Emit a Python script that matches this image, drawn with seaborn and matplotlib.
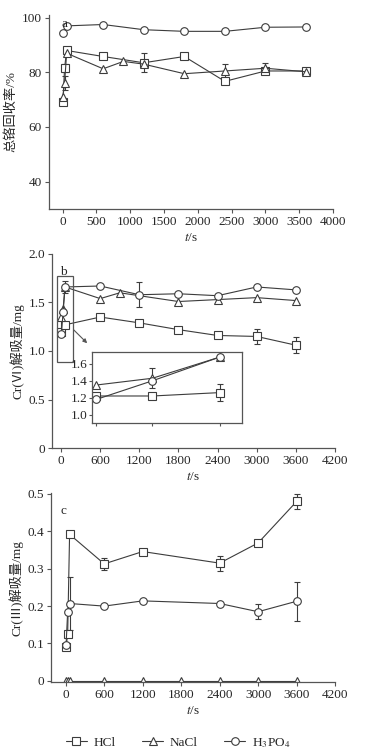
import numpy as np
import pandas as pd
import seaborn as sns
import matplotlib.pyplot as plt
from matplotlib.patches import Rectangle

sns.set_style('ticks')
plt.rcParams['font.family'] = ['Liberation Serif', 'Noto Sans CJK SC']
plt.rcParams['mathtext.fontset'] = 'stix'
plt.rcParams['axes.unicode_minus'] = False

# panel a: total Cr recovery (%)
t_a_hcl = [5, 30, 60, 600, 1200, 1800, 2400, 3000, 3600]
v_a_hcl = [69, 81.5, 88, 85.8, 83.5, 85.8, 76.7, 80.5, 80.5]
e_a_hcl = [0, 1.5, 0, 0, 3.5, 0, 1.0, 0, 0]
t_a_nacl = [5, 30, 60, 600, 900, 1200, 1800, 2400, 3000, 3600]
v_a_nacl = [71, 76, 87, 81.3, 84, 83, 79.5, 80.5, 81.5, 80.2]
e_a_nacl = [0, 2.5, 0, 0, 0, 0, 0, 2.5, 2.0, 0]
t_a_h3po4 = [10, 60, 600, 1200, 1800, 2400, 3000, 3600]
v_a_h3po4 = [94.5, 97, 97.5, 95.6, 95, 95, 96.5, 96.6]
e_a_h3po4 = [0, 0, 0, 0, 0, 0, 0, 0]

# panel b: Cr(VI) desorbed (mg)
t_b_hcl = [5, 60, 600, 1200, 1800, 2400, 3000, 3600]
v_b_hcl = [1.2, 1.27, 1.35, 1.29, 1.22, 1.16, 1.15, 1.06]
e_b_hcl = [0, 0, 0, 0, 0, 0, 0.08, 0.08]
t_b_nacl = [5, 30, 60, 600, 900, 1800, 2400, 3000, 3600]
v_b_nacl = [1.35, 1.43, 1.66, 1.54, 1.6, 1.51, 1.53, 1.55, 1.52]
e_b_nacl = [0, 0, 0.06, 0, 0, 0, 0, 0, 0]
t_b_h3po4 = [5, 30, 60, 600, 1200, 1800, 2400, 3000, 3600]
v_b_h3po4 = [1.18, 1.4, 1.66, 1.67, 1.58, 1.59, 1.57, 1.66, 1.63]
e_b_h3po4 = [0, 0, 0, 0, 0.13, 0, 0, 0, 0]

# inset of panel b
t_in = [5, 30, 60]
v_in_hcl = [1.22, 1.22, 1.26]
e_in_hcl = [0, 0, 0.1]
v_in_nacl = [1.35, 1.43, 1.68]
e_in_nacl = [0, 0.12, 0]
v_in_h3po4 = [1.18, 1.40, 1.68]
e_in_h3po4 = [0, 0, 0.03]

# panel c: Cr(III) desorbed (mg)
t_c_hcl = [5, 30, 60, 600, 1200, 2400, 3000, 3600]
v_c_hcl = [0.09, 0.125, 0.392, 0.313, 0.346, 0.315, 0.369, 0.48]
e_c_hcl = [0, 0, 0, 0.017, 0, 0.02, 0.005, 0.02]
t_c_nacl = [5, 30, 60, 600, 1200, 1800, 2400, 3000, 3600]
v_c_nacl = [0, 0, 0, 0, 0, 0, 0, 0, 0]
e_c_nacl = [0, 0, 0, 0, 0, 0, 0, 0, 0]
t_c_h3po4 = [5, 30, 60, 600, 1200, 2400, 3000, 3600]
v_c_h3po4 = [0.095, 0.185, 0.207, 0.2, 0.214, 0.207, 0.185, 0.213]
e_c_h3po4 = [0, 0, 0.07, 0, 0, 0, 0.02, 0.052]

names = ['HCl', 'NaCl', 'H3PO4']
markers = {'HCl': 's', 'NaCl': '^', 'H3PO4': 'o'}
ink = '#3c3c3c'
fs = 9.5


def make_df(series):
    rows = []
    for name, (t, v, e) in zip(names, series):
        for ti, vi, ei in zip(t, v, e):
            rows.append({'t': ti, 'v': vi, 'err': ei, 'series': name})
    return pd.DataFrame(rows)


def draw(ax, df, ms=5.5):
    for name in names:
        sub = df[(df['series'] == name) & (df['err'] > 0)]
        if len(sub):
            ax.errorbar(sub['t'], sub['v'], yerr=sub['err'], fmt='none',
                        ecolor=ink, elinewidth=0.8, capsize=2, capthick=0.8, zorder=1)
    sns.lineplot(data=df, x='t', y='v', hue='series', style='series',
                 markers=markers, dashes=False,
                 palette={n: ink for n in names}, hue_order=names, style_order=names,
                 markersize=ms, linewidth=0.8, markerfacecolor='white',
                 markeredgecolor=ink, mew=0.8, legend=False, ax=ax, zorder=2)


def style_axes(ax):
    for s in ['top', 'right']:
        ax.spines[s].set_visible(False)
    for s in ['left', 'bottom']:
        ax.spines[s].set_color('#555555')
        ax.spines[s].set_linewidth(0.9)
    ax.tick_params(labelsize=fs, length=3, width=0.8, color='#555555', pad=2)
    ax.set_xlabel('$t$/s', fontsize=fs, labelpad=3)


fig = plt.figure(figsize=(3.86, 7.55), dpi=100)

# ---- panel a
ax_a = fig.add_axes([0.127, 0.7232, 0.736, 0.257])
draw(ax_a, make_df([(t_a_hcl, v_a_hcl, e_a_hcl),
                    (t_a_nacl, v_a_nacl, e_a_nacl),
                    (t_a_h3po4, v_a_h3po4, e_a_h3po4)]))
ax_a.set_xlim(-200, 4000)
ax_a.set_ylim(30, 101)
ax_a.set_xticks(range(0, 4001, 500))
ax_a.set_yticks([40, 60, 80, 100])
ax_a.set_ylabel('总铬回收率/%', fontsize=fs, labelpad=3)
style_axes(ax_a)
ax_a.text(0.045, 0.985, 'a', transform=ax_a.transAxes, fontsize=fs, va='top')

# ---- panel b
ax_b = fig.add_axes([0.1347, 0.4066, 0.733, 0.257])
draw(ax_b, make_df([(t_b_hcl, v_b_hcl, e_b_hcl),
                    (t_b_nacl, v_b_nacl, e_b_nacl),
                    (t_b_h3po4, v_b_h3po4, e_b_h3po4)]))
ax_b.set_xlim(-140, 4200)
ax_b.set_ylim(0, 2.0)
ax_b.set_xticks(range(0, 4201, 600))
ax_b.set_yticks([0, 0.5, 1.0, 1.5, 2.0])
ax_b.set_yticklabels(['0', '0.5', '1.0', '1.5', '2.0'])
ax_b.set_ylabel('Cr(Ⅵ)解吸量/mg', fontsize=fs, labelpad=3)
style_axes(ax_b)
ax_b.text(0.03, 0.94, 'b', transform=ax_b.transAxes, fontsize=fs, va='top')
ax_b.add_patch(Rectangle((-60, 0.89), 245, 0.88, fill=False, ec='#555555', lw=0.9, zorder=3))
ax_b.annotate('', xy=(430, 1.06), xytext=(160, 1.24),
              arrowprops=dict(arrowstyle='-|>', color='#555555', lw=0.8,
                              mutation_scale=6))

# inset
ax_in = fig.add_axes([0.2383, 0.4397, 0.3886, 0.094])
draw(ax_in, make_df([(t_in, v_in_hcl, e_in_hcl),
                     (t_in, v_in_nacl, e_in_nacl),
                     (t_in, v_in_h3po4, e_in_h3po4)]))
ax_in.set_xlim(3, 70)
ax_in.set_ylim(0.9, 1.74)
ax_in.set_yticks([1.0, 1.2, 1.4, 1.6])
ax_in.set_xticks([5, 30, 60])
ax_in.set_xticklabels([])
ax_in.set_xlabel('')
ax_in.set_ylabel('')
for s in ax_in.spines.values():
    s.set_color('#555555')
    s.set_linewidth(0.9)
ax_in.tick_params(labelsize=fs, length=2, width=0.8, color='#555555', pad=1)

# ---- panel c
ax_c = fig.add_axes([0.1321, 0.0967, 0.736, 0.250])
draw(ax_c, make_df([(t_c_hcl, v_c_hcl, e_c_hcl),
                    (t_c_nacl, v_c_nacl, e_c_nacl),
                    (t_c_h3po4, v_c_h3po4, e_c_h3po4)]))
ax_c.set_xlim(-230, 4200)
ax_c.set_ylim(-0.003, 0.502)
ax_c.set_xticks(range(0, 4201, 600))
ax_c.set_yticks([0, 0.1, 0.2, 0.3, 0.4, 0.5])
ax_c.set_yticklabels(['0', '0.1', '0.2', '0.3', '0.4', '0.5'])
ax_c.set_ylabel('Cr(Ⅲ)解吸量/mg', fontsize=fs, labelpad=3)
style_axes(ax_c)
ax_c.text(0.035, 0.936, 'c', transform=ax_c.transAxes, fontsize=fs, va='top')

# legend
labels = {'HCl': 'HCl', 'NaCl': 'NaCl', 'H3PO4': 'H$_3$PO$_4$'}
handles = [plt.Line2D([], [], color=ink, lw=0.8, marker=markers[n], markersize=5.5,
                      markerfacecolor='white', markeredgecolor=ink, mew=0.8)
           for n in names]
fig.legend(handles, [labels[n] for n in names], loc='center',
           bbox_to_anchor=(178 / 386, 1 - 743 / 755), ncol=3, frameon=False,
           fontsize=fs, handlelength=1.6, columnspacing=2.0, handletextpad=0.5)

fig.savefig('out.png', dpi=100)
